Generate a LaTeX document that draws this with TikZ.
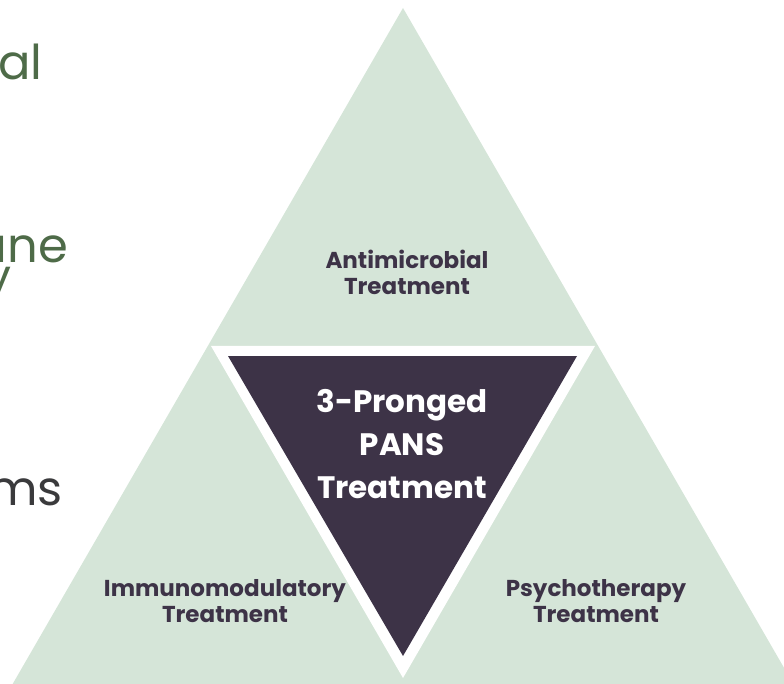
\documentclass[tikz,border=0pt]{standalone}
\usepackage{fontspec}
\setmainfont{Poppins}[BoldFont={Poppins Bold}]
\definecolor{paleGreen}{HTML}{D5E5D8}
\definecolor{plumDark}{HTML}{3D3347}
\definecolor{leafGreen}{HTML}{4E6B48}
\definecolor{inkGray}{HTML}{3A3A3C}
\begin{document}
\begin{tikzpicture}[x=1pt,y=-1pt,
    prong/.style={font=\fontsize{23}{26}\selectfont\bfseries,text=plumDark,align=center,inner sep=0pt,anchor=base},
    leftword/.style={font=\fontsize{48}{58}\selectfont,text=leafGreen,inner sep=0pt,anchor=base east}]
    \useasboundingbox (0,0) rectangle (784,684);
    \clip (0,0) rectangle (784,684);
    % outer triangle, white frame, dark middle
    \fill[paleGreen] (403,8) -- (3.4,700) -- (802.6,700) -- cycle;
    \fill[white] (211,346) -- (595,346) -- (403,678) -- cycle;
    \fill[plumDark] (228,356) -- (577,356) -- (403,656) -- cycle;
    \node[font=\fontsize{31}{43}\selectfont\bfseries,text=white,align=center,inner sep=0pt,anchor=base] (pans) at (402,498) {3-Pronged\\PANS\\Treatment};
    \node[prong] (antimicrobial) at (407,295) {Antimicrobial\\Treatment};
    \node[prong] (immuno) at (225,622) {Immunomodulatory\\Treatment};
    \node[prong] (psycho) at (596,622) {Psychotherapy\\Treatment};
    % cut-off words on the left
    \node[leftword] (wordA) at (43,80) {al};
    \node[leftword] (wordB) at (68,263) {une};
    \node[leftword] (wordC) at (12,294) {y};
    \node[leftword,text=inkGray] (wordD) at (63,505) {ms};
\end{tikzpicture}
\end{document}
